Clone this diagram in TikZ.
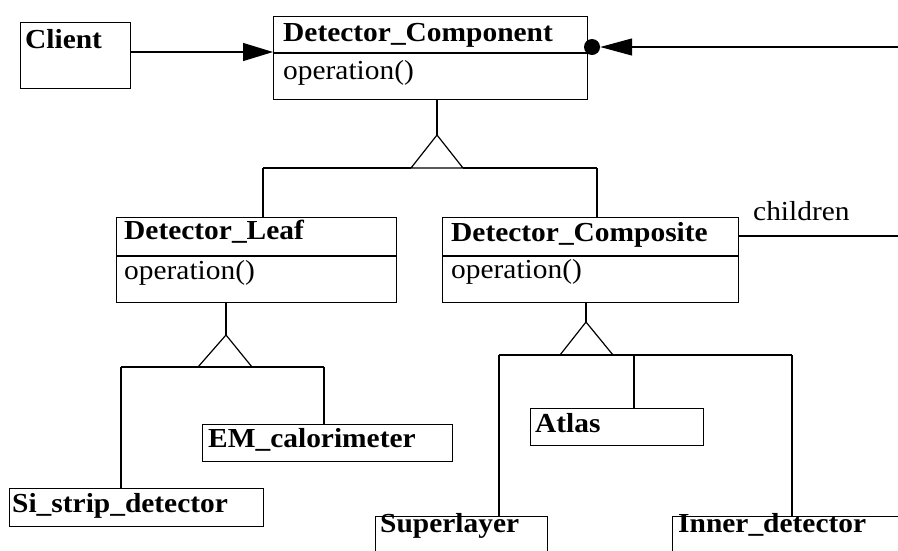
\documentclass[tikz,border=0pt]{standalone}
\usepackage{fontspec}
\setmainfont{Liberation Serif}
\usetikzlibrary{arrows.meta,calc}
% slightly widened lettering
\newcommand\widetext[1]{\scalebox{1.07}[1]{#1}}
\begin{document}
\begin{tikzpicture}[x=1pt,y=-1pt,
  box/.style={draw, line width=1.2pt, rectangle, inner sep=0pt, anchor=north west},
  lbl/.style={font=\fontsize{27.5}{30}\selectfont\bfseries, anchor=base west, inner sep=0pt},
  op/.style={font=\fontsize{27.5}{30}\selectfont, anchor=base west, inner sep=0pt},
  link/.style={line width=1.2pt},
  tip/.style={-{Triangle[length=30pt,width=18pt]}}]
\useasboundingbox (0,0) rectangle (898,550);
\clip (0,0) rectangle (898,550);

% class boxes
\node[box, minimum width=110, minimum height=66] (client) at (20,22) {};
\node[box, minimum width=314, minimum height=83] (comp) at (273,16) {};
\node[box, minimum width=280, minimum height=85] (leaf) at (116,217) {};
\node[box, minimum width=296, minimum height=85] (compo) at (442,217) {};
\node[box, minimum width=250, minimum height=37] (em) at (202,424) {};
\node[box, minimum width=254, minimum height=38] (si) at (9,488) {};
\node[box, minimum width=173, minimum height=37] (atlas) at (530,408) {};
\node[box, minimum width=172, minimum height=50] (super) at (375,516) {};
\node[box, minimum width=240, minimum height=50] (inner) at (672,516) {};

% compartment dividers
\draw[link] (comp.west |- 0,53) -- (comp.east |- 0,53);
\draw[link] (leaf.west |- 0,256) -- (leaf.east |- 0,256);
\draw[link] (compo.west |- 0,256) -- (compo.east |- 0,256);

% labels
\node[lbl] (clientT) at (25,48) {\widetext{Client}};
\node[lbl] (compT) at (283,41) {\widetext{Detector\_Component}};
\node[op] (compO) at (283,79) {\widetext{operation()}};
\node[lbl] (leafT) at (124,239) {\widetext{Detector\_Leaf}};
\node[op] (leafO) at (124,279) {\widetext{operation()}};
\node[lbl] (compoT) at (451,241) {\widetext{Detector\_Composite}};
\node[op] (compoO) at (451,278) {\widetext{operation()}};
\node[lbl] (emT) at (208,447) {\widetext{EM\_calorimeter}};
\node[lbl] (siT) at (12,512) {\widetext{Si\_strip\_detector}};
\node[lbl] (atlasT) at (535,432) {\widetext{Atlas}};
\node[lbl] (superT) at (380,532) {\widetext{Superlayer}};
\node[lbl] (innerT) at (678,532) {\widetext{Inner\_detector}};
\node[op] (childT) at (753,220) {\widetext{children}};

% client uses component
\draw[link, tip] (client.east |- 0,52) -- (comp.west |- 0,52);

% aggregation of children back into component
\node[circle, fill, inner sep=0pt, minimum size=16] (dot) at (592,47) {};
\coordinate (rin) at (898,47);
\draw[link, -{Triangle[length=32pt,width=17pt]}] (rin) -- (dot.east);
\coordinate (cout) at (898,236);
\draw[link] (compo.east |- 0,236) -- (cout);

% generalization: component
\coordinate (gA) at (437,135);
\coordinate (jA) at (263,168);
\coordinate (kA) at (597,168);
\draw[link] (gA |- comp.south) -- (gA);
\draw[link] (gA) -- (411,168) -- (463,168) -- cycle;
\draw[link] (jA) -- (411,168);
\draw[link] (463,168) -- (kA);
\draw[link] (jA) -- (jA |- leaf.north);
\draw[link] (kA) -- (kA |- compo.north);

% generalization: leaf
\coordinate (gB) at (226,335);
\coordinate (jB) at (121,367);
\coordinate (kB) at (324,367);
\draw[link] (gB |- leaf.south) -- (gB);
\draw[link] (gB) -- (198,367) -- (252,367) -- cycle;
\draw[link] (jB) -- (kB);
\draw[link] (jB) -- (jB |- si.north);
\draw[link] (kB) -- (kB |- em.north);

% generalization: composite
\coordinate (gC) at (586,322);
\coordinate (jC) at (499,355);
\coordinate (mC) at (634,355);
\coordinate (kC) at (792,355);
\draw[link] (gC |- compo.south) -- (gC);
\draw[link] (gC) -- (560,355) -- (613,355) -- cycle;
\draw[link] (jC) -- (kC);
\draw[link] (jC) -- (jC |- super.north);
\draw[link] (mC) -- (mC |- atlas.north);
\draw[link] (kC) -- (kC |- inner.north);
\end{tikzpicture}
\end{document}
